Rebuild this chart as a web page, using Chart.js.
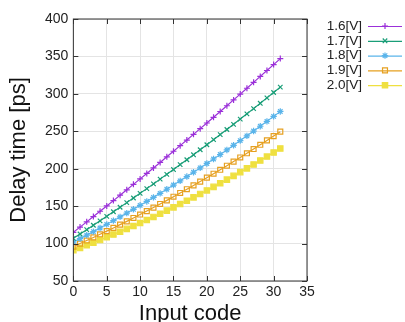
<!DOCTYPE html>
<html>
<head>
<meta charset="utf-8">
<script src="https://cdn.jsdelivr.net/npm/chart.js@4.4.1/dist/chart.umd.min.js"></script>
<style>
  html, body { margin: 0; padding: 0; background: #fff; }
  #wrap { width: 405px; height: 322px; }
</style>
</head>
<body>
<div id="wrap"><canvas id="delayChart" width="405" height="322"></canvas></div>
<script>
const inputCodes = [0, 1, 2, 3, 4, 5, 6, 7, 8, 9, 10, 11, 12, 13, 14, 15,
  16, 17, 18, 19, 20, 21, 22, 23, 24, 25, 26, 27, 28, 29, 30, 31];

const delay16 = [115, 122.0, 129.0, 136.1, 143.2, 150.3, 157.4, 164.6, 171.8, 179.1, 186.4,
  193.7, 201.0, 208.4, 215.9, 223.3, 230.8, 238.3, 245.9, 253.5, 261.1,
  268.7, 276.4, 284.1, 291.9, 299.7, 307.5, 315.4, 323.3, 331.2, 339.1, 347.1];
const delay17 = [107, 112.8, 118.6, 124.5, 130.4, 136.4, 142.5, 148.5, 154.7, 160.9, 167.1,
  173.4, 179.7, 186.1, 192.5, 198.9, 205.5, 212.0, 218.6, 225.3, 232.0,
  238.8, 245.6, 252.4, 259.3, 266.3, 273.3, 280.3, 287.4, 294.6, 301.8, 309.0];
const delay18 = [102, 106.6, 111.3, 116.0, 120.8, 125.7, 130.6, 135.6, 140.7, 145.8, 151.1,
  156.3, 161.7, 167.1, 172.6, 178.2, 183.8, 189.5, 195.3, 201.1, 207.0,
  213.0, 219.0, 225.1, 231.3, 237.6, 243.9, 250.3, 256.7, 263.3, 269.9, 276.5];
const delay19 = [96, 100.0, 104.1, 108.2, 112.4, 116.6, 120.9, 125.3, 129.7, 134.2, 138.8,
  143.4, 148.1, 152.9, 157.7, 162.6, 167.6, 172.6, 177.7, 182.8, 188.0,
  193.3, 198.6, 204.0, 209.5, 215.0, 220.6, 226.3, 232.0, 237.8, 243.6, 249.5];
const delay20 = [91, 94.3, 97.7, 101.2, 104.7, 108.4, 112.1, 115.8, 119.6, 123.5, 127.5,
  131.5, 135.6, 139.8, 144.0, 148.4, 152.8, 157.2, 161.7, 166.3, 171.0,
  175.7, 180.6, 185.4, 190.4, 195.4, 200.5, 205.7, 210.9, 216.2, 221.6, 227.0];

const seriesLabels = ["1.6[V]", "1.7[V]", "1.8[V]", "1.9[V]", "2.0[V]"];
const seriesValues = [delay16, delay17, delay18, delay19, delay20];
const colors = ["#9b30d9", "#1a9e78", "#5ab4ea", "#e6a020", "#efe040"];
const markers = ["cross", "crossRot", "star", "rect", "rect"];
const markerSize = [3, 3.2, 3.2, 3.5, 3.8];
const markerFill = [false, false, false, false, true];

const FONT = "'Liberation Sans', Arial, sans-serif";

const toPoints = (values) => values.map((v, i) => ({ x: inputCodes[i], y: v }));

const datasets = seriesValues.map((values, i) => ({
  label: seriesLabels[i],
  data: toPoints(values),
  borderColor: colors[i],
  backgroundColor: markerFill[i] ? colors[i] : "rgba(0,0,0,0)",
  borderWidth: 1.2,
  pointStyle: markers[i],
  pointRadius: markerSize[i],
  pointBorderWidth: 1.2,
  pointBorderColor: colors[i],
  pointBackgroundColor: markerFill[i] ? colors[i] : "rgba(0,0,0,0)",
  tension: 0,
}));

// gnuplot style frame with inward ticks
const framePlugin = {
  id: "frame",
  afterDraw(chart) {
    const { ctx, chartArea: a, scales } = chart;
    ctx.save();
    ctx.strokeStyle = "#333";
    ctx.lineWidth = 1;
    ctx.strokeRect(a.left, a.top, a.right - a.left, a.bottom - a.top);
    ctx.beginPath();
    scales.x.ticks.forEach((t) => {
      const px = Math.round(scales.x.getPixelForValue(t.value)) + 0.5;
      ctx.moveTo(px, a.bottom);
      ctx.lineTo(px, a.bottom - 5);
      ctx.moveTo(px, a.top);
      ctx.lineTo(px, a.top + 5);
    });
    scales.y.ticks.forEach((t) => {
      const py = Math.round(scales.y.getPixelForValue(t.value)) + 0.5;
      ctx.moveTo(a.left, py);
      ctx.lineTo(a.left + 5, py);
      ctx.moveTo(a.right, py);
      ctx.lineTo(a.right - 5, py);
    });
    ctx.stroke();
    ctx.restore();
  },
};

// legend: text first, then line sample with marker
const keyPlugin = {
  id: "key",
  afterDraw(chart) {
    const { ctx } = chart;
    ctx.save();
    ctx.font = "13.5px " + FONT;
    ctx.textAlign = "right";
    ctx.textBaseline = "middle";
    chart.data.datasets.forEach((ds, i) => {
      const y = 26 + i * 14.8;
      ctx.fillStyle = "#222";
      ctx.fillText(ds.label, 362, y);
      ctx.strokeStyle = ds.borderColor;
      ctx.lineWidth = 1.2;
      ctx.beginPath();
      ctx.moveTo(368, y + 0.5);
      ctx.lineTo(402, y + 0.5);
      ctx.stroke();
      ctx.fillStyle = ds.pointBackgroundColor;
      ctx.strokeStyle = ds.pointBorderColor;
      Chart.helpers.drawPoint(ctx, {
        pointStyle: ds.pointStyle,
        radius: ds.pointRadius,
        rotation: 0,
        borderWidth: 1.2,
      }, 385, y);
    });
    ctx.restore();
  },
};

new Chart(document.getElementById("delayChart"), {
  type: "line",
  data: { datasets },
  options: {
    responsive: false,
    animation: false,
    layout: { padding: { left: 8, right: 98, top: 19, bottom: -3 } },
    plugins: {
      legend: { display: false },
      tooltip: { enabled: false },
    },
    scales: {
      x: {
        type: "linear",
        min: 0,
        max: 35,
        ticks: { stepSize: 5, color: "#222", font: { family: FONT, size: 14, lineHeight: 1 }, padding: 4 },
        grid: { color: "#e4e4e4", drawTicks: false },
        border: { display: false },
        title: {
          display: true,
          text: "Input code",
          color: "#111",
          font: { family: FONT, size: 22, lineHeight: 1 },
          padding: { top: 0, bottom: 0 },
        },
      },
      y: {
        min: 50,
        max: 400,
        ticks: { stepSize: 50, color: "#222", font: { family: FONT, size: 14, lineHeight: 1 }, padding: 5 },
        grid: { color: "#e4e4e4", drawTicks: false },
        border: { display: false },
        title: {
          display: true,
          text: "Delay time [ps]",
          color: "#111",
          font: { family: FONT, size: 22, lineHeight: 1 },
          padding: { top: 0, bottom: 10 },
        },
      },
    },
  },
  plugins: [framePlugin, keyPlugin],
});
</script>
</body>
</html>
